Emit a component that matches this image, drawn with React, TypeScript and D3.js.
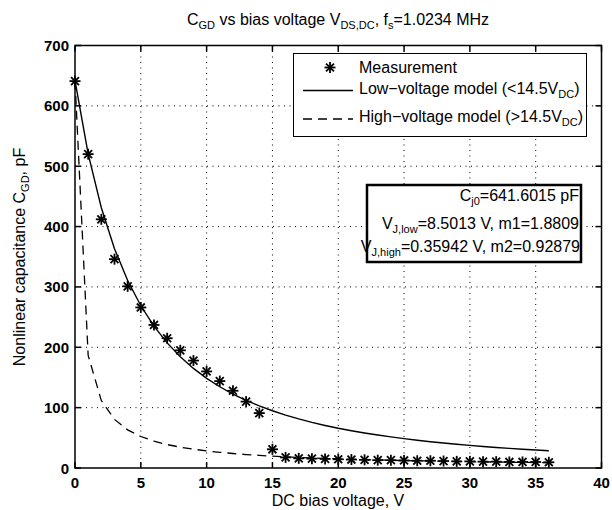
import React from 'react';
import * as d3 from 'd3';

// Bias voltages of the measurement sweep (V)
const voltages = [
  0, 1, 2, 3, 4, 5, 6, 7, 8, 9, 10, 11, 12, 13, 14, 15, 16, 17, 18,
  19, 20, 21, 22, 23, 24, 25, 26, 27, 28, 29, 30, 31, 32, 33, 34, 35, 36,
];

// Measured gate-drain capacitance (pF)
const measured = [
  641, 520, 412, 346, 301, 266, 237, 215, 195, 178, 160, 144, 128, 110, 91,
  31, 17.5, 16, 15.5, 15, 14.5, 14, 13.5, 13, 13, 12.5, 12, 12, 11.5, 11, 11,
  10.5, 10.5, 10, 10, 10, 9.5,
];

// Low-voltage junction model (Cj0, VJ,low, m1) evaluated at the sweep voltages (pF)
const lowModel = [
  641.6, 520.5, 431.2, 363.4, 310.6, 268.8, 235.0, 207.3, 184.3, 165.0, 148.6,
  134.6, 122.5, 112.0, 102.8, 94.8, 87.6, 81.3, 75.6, 70.5, 65.9, 61.8, 58.0,
  54.6, 51.5, 48.6, 46.0, 43.6, 41.4, 39.3, 37.4, 35.7, 34.0, 32.5, 31.1, 29.8,
  28.5,
];

// High-voltage junction model (Cj0, VJ,high, m2) evaluated at the sweep voltages (pF)
const highModel = [
  641.6, 186.5, 111.7, 80.5, 63.2, 52.2, 44.5, 38.8, 34.5, 31.1, 28.3, 26.0,
  24.0, 22.3, 20.9, 19.6, 18.5, 17.5, 16.6, 15.8, 15.1, 14.4, 13.8, 13.3, 12.8,
  12.3, 11.9, 11.5, 11.1, 10.8, 10.4, 10.1, 9.8, 9.5, 9.3, 9.0, 8.8,
];

const xTicks = [0, 5, 10, 15, 20, 25, 30, 35, 40];
const yTicks = [0, 100, 200, 300, 400, 500, 600, 700];

const FONT = "'Liberation Sans', Arial, Helvetica, sans-serif";

function Star({ cx, cy, r = 5.5 }: { cx: number; cy: number; r?: number }) {
  const d = r * 0.72;
  return (
    <g transform={`translate(${cx},${cy})`} stroke="#000" strokeWidth={1.8}>
      <line x1={-r} y1={0} x2={r} y2={0} />
      <line x1={0} y1={-r} x2={0} y2={r} />
      <line x1={-d} y1={-d} x2={d} y2={d} />
      <line x1={-d} y1={d} x2={d} y2={-d} />
    </g>
  );
}

export default function App() {
  const left = 75;
  const right = 601.5;
  const top = 45.5;
  const bottom = 468;

  const x = d3.scaleLinear().domain([0, 40]).range([left, right]);
  const y = d3.scaleLinear().domain([0, 700]).range([bottom, top]);

  const path = (vals: number[]) =>
    d3
      .line<number>()
      .x((_, i) => x(voltages[i]))
      .y((d) => y(d))(vals) as string;

  const tick = 6;
  const sub = 11;

  return (
    <svg
      width={612}
      height={510}
      style={{ position: 'absolute', left: 0, top: 0, background: '#fff' }}
      fontFamily={FONT}
    >
      <rect x={0} y={0} width={612} height={510} fill="#fff" />

      {/* dotted grid */}
      <g stroke="#000" strokeWidth={1} strokeDasharray="1,4.5">
        {xTicks.slice(1, -1).map((t) => (
          <line key={`gx${t}`} x1={x(t)} x2={x(t)} y1={top} y2={bottom} />
        ))}
        {yTicks.slice(1, -1).map((t) => (
          <line key={`gy${t}`} x1={left} x2={right} y1={y(t)} y2={y(t)} />
        ))}
      </g>

      {/* model curves */}
      <path d={path(lowModel)} fill="none" stroke="#000" strokeWidth={1.4} />
      <path
        d={path(highModel)}
        fill="none"
        stroke="#000"
        strokeWidth={1.3}
        strokeDasharray="9,6"
      />

      {/* measurements */}
      {measured.map((m, i) => (
        <Star key={`m${i}`} cx={x(voltages[i])} cy={y(m)} />
      ))}

      {/* axes box with inward ticks */}
      <g stroke="#000" strokeWidth={1.5}>
        <rect x={left} y={top} width={right - left} height={bottom - top} fill="none" />
        {xTicks.map((t) => (
          <g key={`tx${t}`}>
            <line x1={x(t)} x2={x(t)} y1={bottom} y2={bottom - tick} />
            <line x1={x(t)} x2={x(t)} y1={top} y2={top + tick} />
          </g>
        ))}
        {yTicks.map((t) => (
          <g key={`ty${t}`}>
            <line x1={left} x2={left + tick} y1={y(t)} y2={y(t)} />
            <line x1={right} x2={right - tick} y1={y(t)} y2={y(t)} />
          </g>
        ))}
      </g>

      {/* tick labels */}
      <g fontSize={15} fontWeight="bold" fill="#000">
        {xTicks.map((t) => (
          <text key={`lx${t}`} x={x(t)} y={488} textAnchor="middle">
            {t}
          </text>
        ))}
        {yTicks.map((t) => (
          <text key={`ly${t}`} x={69} y={y(t) + 5.5} textAnchor="end">
            {t}
          </text>
        ))}
      </g>

      {/* legend */}
      <g>
        <rect x={293.5} y={53.5} width={293} height={83} fill="#fff" stroke="#000" strokeWidth={1} />
        <Star cx={330} cy={67.5} />
        <line x1={303} x2={353} y1={90.5} y2={90.5} stroke="#000" strokeWidth={1.3} />
        <line x1={303} x2={353} y1={119} y2={119} stroke="#000" strokeWidth={1.3} strokeDasharray="9,6" />
        <g fontSize={16} fill="#000">
          <text x={359} y={73}>Measurement</text>
          <text x={359} y={94}>
            {'Low\u2212voltage model (<14.5V'}
            <tspan dy={4} fontSize={sub}>DC</tspan>
            <tspan dy={-4}>)</tspan>
          </text>
          <text x={359} y={122}>
            {'High\u2212voltage model (>14.5V'}
            <tspan dy={4} fontSize={sub}>DC</tspan>
            <tspan dy={-4}>)</tspan>
          </text>
        </g>
      </g>

      {/* fitted parameters */}
      <g>
        <rect x={367} y={185} width={214} height={77} fill="#fff" stroke="#000" strokeWidth={2.5} />
        <g fontSize={16} fill="#000" textAnchor="end">
          <text x={579} y={201}>
            C<tspan dy={4} fontSize={sub}>j0</tspan>
            <tspan dy={-4}>=641.6015 pF</tspan>
          </text>
          <text x={579} y={229}>
            V<tspan dy={4} fontSize={sub}>J,low</tspan>
            <tspan dy={-4}>=8.5013 V, m1=1.8809</tspan>
          </text>
          <text x={580} y={252}>
            V<tspan dy={4} fontSize={sub}>J,high</tspan>
            <tspan dy={-4}>=0.35942 V, m2=0.92879</tspan>
          </text>
        </g>
      </g>

      {/* title and axis labels */}
      <text x={338} y={25} textAnchor="middle" fontSize={16} fill="#000">
        C<tspan dy={4} fontSize={sub}>GD</tspan>
        <tspan dy={-4}>{' vs bias voltage V'}</tspan>
        <tspan dy={4} fontSize={sub}>DS,DC</tspan>
        <tspan dy={-4}>{', f'}</tspan>
        <tspan dy={4} fontSize={sub}>s</tspan>
        <tspan dy={-4}>=1.0234 MHz</tspan>
      </text>
      <text x={338} y={506} textAnchor="middle" fontSize={16} fill="#000">
        DC bias voltage, V
      </text>
      <text transform="translate(25,257) rotate(-90)" textAnchor="middle" fontSize={16} fill="#000">
        {'Nonlinear capacitance C'}
        <tspan dy={4} fontSize={sub}>GD</tspan>
        <tspan dy={-4}>, pF</tspan>
      </text>
    </svg>
  );
}
